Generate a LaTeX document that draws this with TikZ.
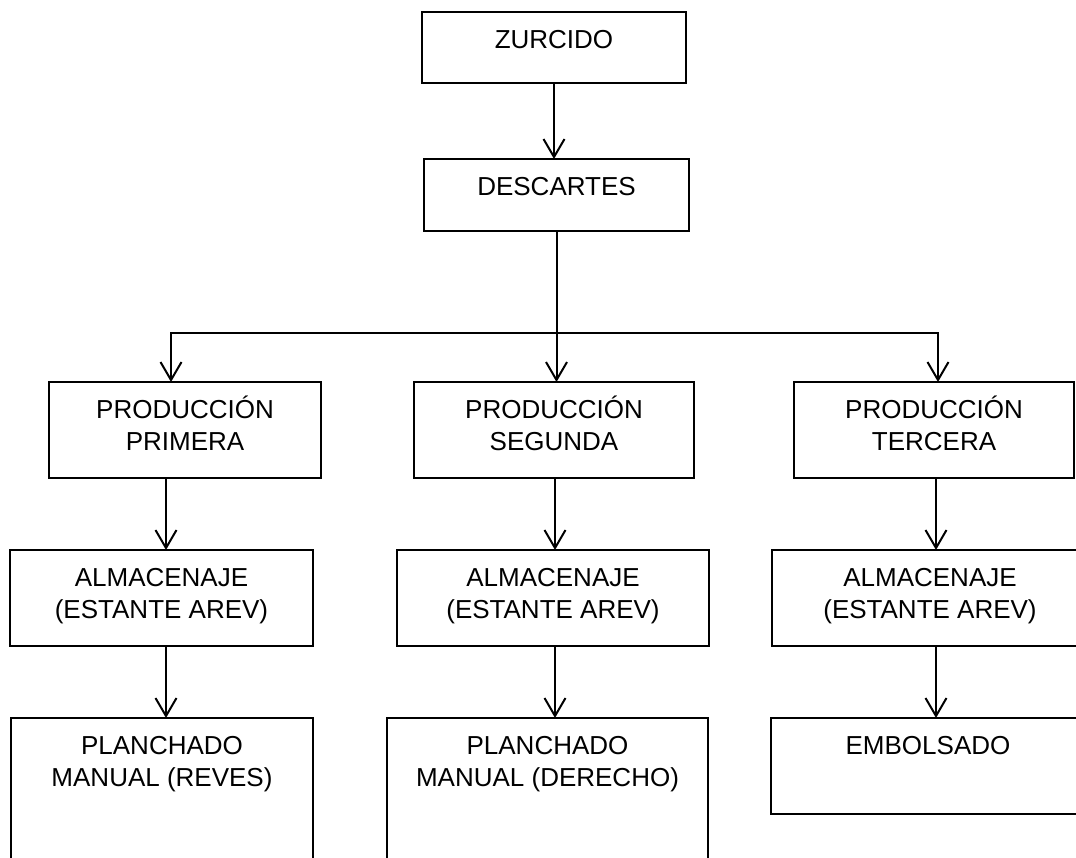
\documentclass[tikz,border=0pt]{standalone}
\usepackage{fontspec}
\setmainfont{Liberation Sans}
\usetikzlibrary{arrows.meta}
\begin{document}
\begin{tikzpicture}[x=1pt,y=-1pt,
  box/.style={draw, line width=2pt, rectangle, inner sep=0pt, outer sep=0pt},
  lbl/.style={anchor=north, align=center, inner sep=0pt, outer sep=0pt,
              font=\fontsize{26}{31.7}\selectfont, yshift=-11.5pt},
  arr/.style={line width=2pt, -{Straight Barb[length=18pt,width=21pt]}},
  link/.style={line width=2pt}]
\useasboundingbox (0,0) rectangle (1076,857);
\clip (0,0) rectangle (1076,857);

% first label line carries a strut so every first baseline sits alike
\newcommand{\fl}{\rule{0pt}{25pt}}

% boxes
\node[box, minimum width=264pt, minimum height=71pt] (zur)  at (554,47.5) {};
\node[box, minimum width=265pt, minimum height=72pt] (desc) at (556.5,195) {};
\node[box, minimum width=272pt, minimum height=96pt] (p1) at (185,430) {};
\node[box, minimum width=280pt, minimum height=96pt] (p2) at (554,430) {};
\node[box, minimum width=280pt, minimum height=96pt] (p3) at (934,430) {};
\node[box, minimum width=303pt, minimum height=96pt] (a1) at (161.5,598) {};
\node[box, minimum width=312pt, minimum height=96pt] (a2) at (553,598) {};
\node[box, minimum width=316pt, minimum height=96pt] (a3) at (930,598) {};
\node[box, minimum width=302pt, minimum height=182pt] (pl1) at (162,809) {};
\node[box, minimum width=321pt, minimum height=182pt] (pl2) at (547.5,809) {};
\node[box, minimum width=314pt, minimum height=96pt] (emb) at (928,766) {};

% labels
\node[lbl] (zur-t)  at (zur.north)  {\fl ZURCIDO};
\node[lbl] (desc-t) at (desc.north) {\fl DESCARTES};
\node[lbl] (p1-t) at (p1.north) {\fl PRODUCCIÓN\\PRIMERA};
\node[lbl] (p2-t) at (p2.north) {\fl PRODUCCIÓN\\SEGUNDA};
\node[lbl] (p3-t) at (p3.north) {\fl PRODUCCIÓN\\TERCERA};
\node[lbl] (a1-t) at (a1.north) {\fl ALMACENAJE\\(ESTANTE AREV)};
\node[lbl] (a2-t) at (a2.north) {\fl ALMACENAJE\\(ESTANTE AREV)};
\node[lbl] (a3-t) at (a3.north) {\fl ALMACENAJE\\(ESTANTE AREV)};
\node[lbl] (pl1-t) at (pl1.north) {\fl PLANCHADO\\MANUAL (REVES)};
\node[lbl] (pl2-t) at (pl2.north) {\fl PLANCHADO\\MANUAL (DERECHO)};
\node[lbl] (emb-t) at (emb.north) {\fl EMBOLSADO};

% helper coordinates: branch junction and column lines
\coordinate (j)  at (556.5,333);
\coordinate (b1) at (171,0);
\coordinate (b3) at (938,0);
\coordinate (k1) at (166,0);
\coordinate (k2) at (555,0);
\coordinate (k3) at (936,0);

% connectors
\draw[arr] (zur.south) -- (zur.south |- desc.north);
\draw[arr] (desc.south) -- (j) -- (j |- p2.north);
\draw[arr] (j) -| (b1 |- p1.north);
\draw[arr] (j) -| (b3 |- p3.north);

\draw[arr] (k1 |- p1.south) -- (k1 |- a1.north);
\draw[arr] (k2 |- p2.south) -- (k2 |- a2.north);
\draw[arr] (k3 |- p3.south) -- (k3 |- a3.north);
\draw[arr] (k1 |- a1.south) -- (k1 |- pl1.north);
\draw[arr] (k2 |- a2.south) -- (k2 |- pl2.north);
\draw[arr] (k3 |- a3.south) -- (k3 |- emb.north);
\end{tikzpicture}
\end{document}
